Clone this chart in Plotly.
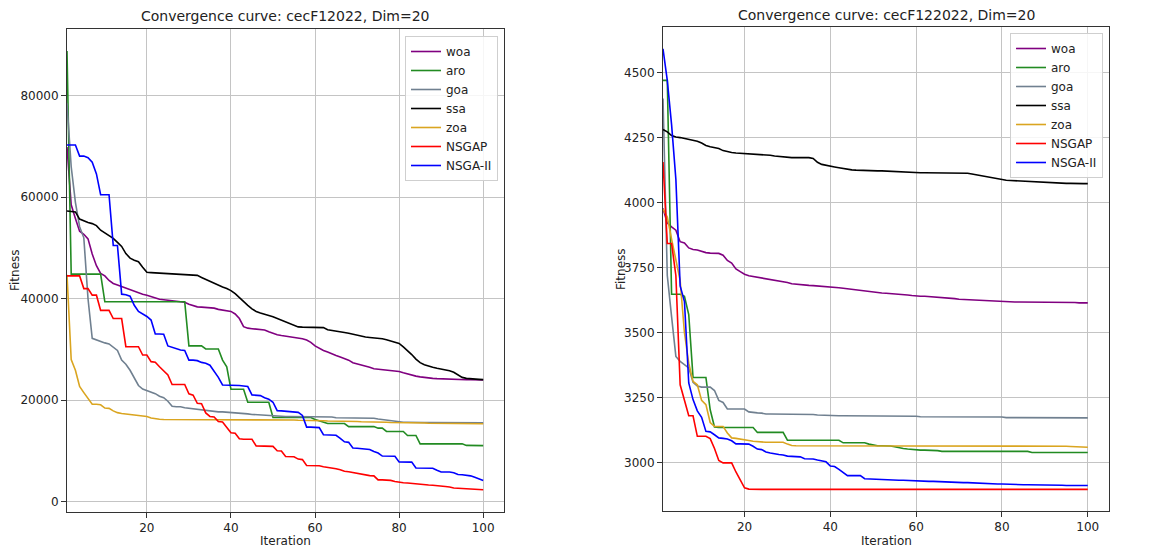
import plotly.graph_objects as go

iterations = list(range(1, 101))
names = ["woa", "aro", "goa", "ssa", "zoa", "NSGAP", "NSGA-II"]
colors = ["#800080", "#228B22", "#708090", "#000000", "#DAA520", "#FF0000", "#0000FF"]
titles = ["Convergence curve: cecF12022, Dim=20", "Convergence curve: cecF122022, Dim=20"]
x_ticks = [20, 40, 60, 80, 100]
y_ticks_f1 = [0, 20000, 40000, 60000, 80000]
y_ticks_f12 = [3000, 3250, 3500, 3750, 4000, 4250, 4500]

# ---------------- cecF1 2022 ----------------
woa_f1 = [69900, 58500, 55800, 53300, 52700, 51800, 48800, 46500, 45000, 44500,
          43600, 43000, 42700, 42400, 42000, 41700, 41400, 41200, 40900, 40700,
          40400, 40100, 39900, 39800, 39700, 39650, 39600, 39500, 39300, 38900,
          38600, 38400, 38350, 38300, 38300, 38150, 37900, 37750, 37650, 37500,
          37000, 36100, 34500, 34200, 34100, 34000, 33950, 33850, 33500, 33150,
          32900, 32750, 32600, 32500, 32400, 32300, 32100, 31850, 31400, 30700,
          30200, 29800, 29500, 29100, 28800, 28500, 28200, 27900, 27400, 27200,
          27000, 26800, 26500, 26200, 26100, 26000, 25900, 25800, 25700, 25650,
          25400, 25150, 24950, 24750, 24600, 24450, 24350, 24300, 24250, 24200,
          24150, 24100, 24080, 24060, 24050, 24040, 24030, 24020, 24010, 24000]
aro_f1 = [88800, 44850, 44850, 44850, 44850, 44850, 44850, 44850, 44850, 39400,
          39400, 39400, 39400, 39400, 39400, 39400, 39400, 39400, 39400, 39400,
          39400, 39400, 39400, 39400, 39400, 39400, 39400, 39400, 39400, 30700,
          30700, 30700, 30700, 30100, 30100, 30100, 30100, 27900, 26600, 22150,
          22150, 22150, 22150, 19600, 19600, 19600, 19600, 19600, 19600, 16600,
          16600, 16600, 16600, 16600, 16600, 16600, 16600, 16600, 16600, 16200,
          15900, 15600, 15400, 15400, 15400, 15400, 15400, 14800, 14800, 14800,
          14800, 14800, 14800, 14800, 14500, 14500, 13850, 13850, 13850, 13850,
          13850, 13050, 13050, 13050, 11400, 11400, 11400, 11400, 11400, 11400,
          11400, 11400, 11400, 11400, 11400, 11100, 11100, 11100, 11100, 11050]
goa_f1 = [78500, 66000, 59000, 54200, 52000, 40000, 32200, 31850, 31500, 31300,
          31100, 30500, 29800, 27900, 27100, 25900, 24500, 22900, 22200, 21900,
          21600, 21300, 20800, 20500, 19800, 18800, 18700, 18700, 18500, 18400,
          18300, 18150, 18050, 17950, 17850, 17750, 17700, 17700, 17650, 17650,
          17550, 17450, 17350, 17300, 17200, 17150, 17050, 16950, 16900, 16850,
          16800, 16800, 16800, 16800, 16800, 16800, 16700, 16700, 16700, 16700,
          16700, 16700, 16700, 16700, 16550, 16550, 16550, 16550, 16550, 16550,
          16550, 16550, 16500, 16450, 16300, 16200, 16100, 15950, 15800, 15700,
          15650, 15650, 15600, 15600, 15600, 15600, 15600, 15600, 15600, 15600,
          15550, 15550, 15550, 15550, 15550, 15550, 15550, 15550, 15550, 15550]
ssa_f1 = [57300, 57200, 57100, 55700, 55300, 55000, 54800, 54400, 53500, 53000,
          52500, 51900, 51100, 50300, 48900, 48000, 47600, 47300, 46200, 45200,
          45150, 45100, 45100, 45050, 45000, 44950, 44900, 44850, 44800, 44750,
          44700, 44600, 44200, 43800, 43500, 43100, 42700, 42300, 42000, 41600,
          41000, 40200, 39300, 38700, 38000, 37500, 37200, 37000, 36700, 36450,
          36100, 35800, 35500, 35100, 34700, 34450, 34400, 34400, 34400, 34400,
          34400, 34300, 33900, 33800, 33700, 33500, 33350, 33200, 33000, 32900,
          32700, 32450, 32350, 32300, 32250, 32100, 31900, 31700, 31500, 31200,
          30500, 29800, 29000, 28100, 27400, 27000, 26700, 26500, 26300, 26150,
          25950, 25800, 25500, 25000, 24500, 24300, 24200, 24150, 24100, 24050]
zoa_f1 = [44700, 28000, 25900, 22700, 21500, 20400, 19200, 19200, 19100, 18450,
          18400, 17900, 17550, 17400, 17300, 17200, 17100, 17000, 16900, 16800,
          16500, 16350, 16250, 16200, 16200, 16150, 16150, 16150, 16150, 16150,
          16100, 16100, 16100, 16100, 16100, 16100, 16100, 16100, 16100, 16100,
          16100, 16100, 16100, 16100, 16100, 16100, 16100, 16100, 16100, 16100,
          16100, 16100, 16100, 16100, 16100, 16050, 16050, 16000, 16000, 16000,
          15950, 15950, 15900, 15900, 15900, 15850, 15850, 15800, 15800, 15800,
          15750, 15750, 15700, 15700, 15700, 15650, 15650, 15600, 15600, 15600,
          15550, 15550, 15500, 15500, 15500, 15500, 15450, 15450, 15450, 15450,
          15400, 15400, 15400, 15400, 15400, 15400, 15350, 15350, 15350, 15350]
nsgap_f1 = [44500, 44500, 44500, 44500, 42000, 42000, 40700, 40700, 37700, 37700,
            37700, 36100, 36100, 36100, 30550, 30550, 30550, 30550, 28900, 28900,
            27600, 27500, 26600, 25800, 25000, 23100, 23100, 23100, 23100, 21250,
            21000, 19400, 19300, 17500, 16800, 16700, 15800, 15700, 14700, 13600,
            13500, 12400, 12300, 12300, 12300, 11000, 11000, 11000, 11000, 10900,
            10050, 10000, 8900, 8900, 8850, 8400, 8300, 7150, 7150, 7100,
            7100, 6900, 6800, 6650, 6500, 6300, 6000, 5900, 5750, 5600,
            5300, 5200, 5150, 5100, 4300, 4300, 4300, 4200, 4000, 3800,
            3750, 3700, 3600, 3500, 3400, 3350, 3300, 3250, 3200, 3100,
            3000, 2900, 2700, 2650, 2600, 2550, 2500, 2450, 2400, 2350]
nsga2_f1 = [70300, 70300, 70300, 68100, 68100, 67800, 66900, 64600, 60500, 60500,
            60500, 50500, 50500, 40900, 40800, 40500, 38700, 37500, 37000, 36500,
            35800, 33050, 33050, 33000, 30700, 30400, 30200, 29900, 29800, 27900,
            27900, 27800, 27450, 27300, 26900, 25700, 24500, 23000, 23000, 23000,
            22950, 22900, 22800, 22700, 21050, 21000, 20900, 20500, 20200, 19600,
            17950, 17900, 17800, 17750, 17700, 17600, 17000, 14700, 14700, 14700,
            14600, 13200, 13200, 13200, 13100, 12500, 11800, 11700, 10600, 10550,
            10500, 10450, 10300, 9900, 9600, 9000, 8950, 8950, 8950, 7850,
            7850, 7850, 7800, 6650, 6650, 6650, 6650, 6600, 6200, 5850,
            5850, 5850, 5700, 5350, 5300, 5250, 5100, 4800, 4500, 4200]

# ---------------- cecF12 2022 ----------------
woa_f12 = [3978, 3922, 3907, 3894, 3850, 3845, 3826, 3820, 3818, 3812,
           3808, 3806, 3805, 3805, 3798, 3778, 3768, 3745, 3735, 3725,
           3719, 3716, 3714, 3712, 3708, 3704, 3702, 3699, 3696, 3693,
           3688, 3686, 3685, 3683, 3682, 3681, 3680, 3678, 3676, 3675,
           3674, 3673, 3671, 3669, 3666, 3664, 3663, 3661, 3658, 3655,
           3654, 3653, 3652, 3651, 3650, 3649, 3647, 3645, 3643, 3641,
           3640, 3640, 3639, 3638, 3637, 3636, 3635, 3633, 3631, 3629,
           3628, 3627, 3626, 3625, 3624, 3623, 3623, 3622, 3622, 3621,
           3619, 3618, 3618, 3618, 3618, 3618, 3618, 3618, 3618, 3618,
           3617, 3617, 3617, 3616, 3616, 3616, 3616, 3615, 3615, 3615]
aro_f12 = [4470, 4470, 3648, 3648, 3648, 3640, 3570, 3328, 3328, 3328,
           3328, 3204, 3138, 3136, 3136, 3136, 3136, 3136, 3136, 3136,
           3136, 3136, 3117, 3117, 3117, 3117, 3117, 3117, 3117, 3087,
           3087, 3087, 3087, 3087, 3087, 3087, 3087, 3087, 3087, 3087,
           3087, 3087, 3077, 3077, 3077, 3077, 3077, 3077, 3072, 3068,
           3066, 3066, 3066, 3065, 3062, 3057, 3055, 3053, 3051, 3049,
           3049, 3049, 3049, 3049, 3047, 3044, 3044, 3044, 3044, 3044,
           3044, 3044, 3044, 3044, 3044, 3044, 3044, 3044, 3044, 3044,
           3044, 3044, 3044, 3044, 3044, 3044, 3040, 3040, 3040, 3040,
           3040, 3040, 3040, 3040, 3040, 3040, 3040, 3040, 3040, 3040]
goa_f12 = [4400, 3720, 3562, 3409, 3390, 3378, 3365, 3310, 3295, 3291,
           3291, 3291, 3278, 3240, 3232, 3207, 3207, 3207, 3207, 3207,
           3196, 3193, 3192, 3191, 3188, 3188, 3188, 3188, 3188, 3188,
           3188, 3188, 3188, 3188, 3188, 3186, 3184, 3183, 3183, 3182,
           3181, 3181, 3181, 3181, 3181, 3181, 3181, 3181, 3181, 3181,
           3179, 3179, 3179, 3179, 3179, 3179, 3179, 3179, 3179, 3179,
           3177, 3177, 3177, 3177, 3177, 3177, 3177, 3177, 3177, 3177,
           3176, 3176, 3176, 3176, 3176, 3176, 3176, 3176, 3176, 3176,
           3174, 3174, 3174, 3174, 3174, 3174, 3174, 3174, 3174, 3174,
           3173, 3173, 3173, 3173, 3173, 3173, 3173, 3173, 3173, 3173]
ssa_f12 = [4281, 4272, 4258, 4252, 4250, 4247, 4244, 4240, 4236, 4229,
           4220, 4215, 4212, 4208, 4200, 4195, 4193, 4191, 4190, 4189,
           4188, 4187, 4187, 4186, 4184, 4182, 4179, 4177, 4175, 4174,
           4173, 4173, 4173, 4173, 4173, 4170, 4155, 4147, 4143, 4139,
           4137, 4134, 4131, 4128, 4126, 4125, 4124, 4123, 4123, 4122,
           4122, 4122, 4121, 4120, 4119, 4118, 4118, 4117, 4116, 4116,
           4115, 4115, 4115, 4115, 4115, 4115, 4115, 4115, 4115, 4115,
           4114, 4113, 4110, 4107, 4104, 4100, 4097, 4094, 4091, 4088,
           4086, 4085, 4084, 4083, 4082, 4081, 4080, 4079, 4078, 4078,
           4077, 4076, 4076, 4075, 4074, 4074, 4073, 4073, 4073, 4073]
zoa_f12 = [3975, 3945, 3860, 3775, 3700, 3500, 3383, 3313, 3300, 3240,
           3224, 3155, 3140, 3140, 3140, 3115, 3096, 3094, 3092, 3090,
           3086, 3083, 3081, 3080, 3079, 3079, 3079, 3079, 3079, 3072,
           3067, 3066, 3066, 3066, 3066, 3064, 3064, 3064, 3064, 3064,
           3064, 3064, 3064, 3064, 3064, 3064, 3064, 3064, 3064, 3064,
           3064, 3064, 3064, 3064, 3064, 3064, 3064, 3064, 3064, 3064,
           3064, 3064, 3064, 3064, 3064, 3064, 3064, 3064, 3064, 3064,
           3064, 3064, 3064, 3064, 3064, 3064, 3064, 3064, 3064, 3064,
           3064, 3064, 3064, 3064, 3064, 3064, 3064, 3064, 3064, 3064,
           3064, 3064, 3064, 3064, 3064, 3063, 3062, 3061, 3061, 3060]
nsgap_f12 = [4156, 3843, 3843, 3720, 3300, 3245, 3181, 3181, 3102, 3102,
             3102, 3093, 3055, 3009, 3000, 3000, 3000, 2965, 2933, 2904,
             2899, 2898, 2898, 2898, 2898, 2898, 2898, 2898, 2898, 2898,
             2898, 2898, 2898, 2898, 2898, 2898, 2898, 2898, 2898, 2898,
             2898, 2898, 2898, 2898, 2898, 2898, 2898, 2898, 2898, 2898,
             2898, 2898, 2898, 2898, 2898, 2898, 2898, 2898, 2898, 2898,
             2898, 2898, 2898, 2898, 2898, 2898, 2898, 2898, 2898, 2898,
             2898, 2898, 2898, 2898, 2898, 2898, 2898, 2898, 2898, 2898,
             2898, 2898, 2898, 2898, 2898, 2898, 2898, 2898, 2898, 2898,
             2898, 2898, 2898, 2898, 2898, 2898, 2898, 2898, 2898, 2898]
nsga2_f12 = [4591, 4470, 4300, 4090, 3680, 3620, 3307, 3243, 3200, 3175,
             3121, 3119, 3108, 3096, 3094, 3092, 3085, 3073, 3073, 3073,
             3072, 3064, 3053, 3051, 3042, 3038, 3034, 3032, 3030, 3026,
             3025, 3024, 3023, 3016, 3015, 3015, 3011, 3008, 3004, 2988,
             2986, 2975, 2962, 2951, 2951, 2951, 2951, 2939, 2938, 2937,
             2936, 2936, 2935, 2935, 2934, 2933, 2933, 2932, 2932, 2931,
             2930, 2930, 2929, 2929, 2928, 2928, 2927, 2926, 2926, 2925,
             2924, 2924, 2923, 2922, 2921, 2921, 2920, 2920, 2919, 2919,
             2918, 2918, 2917, 2917, 2916, 2916, 2916, 2915, 2915, 2915,
             2914, 2914, 2914, 2914, 2913, 2913, 2913, 2913, 2913, 2913]

series_f1 = [woa_f1, aro_f1, goa_f1, ssa_f1, zoa_f1, nsgap_f1, nsga2_f1]
series_f12 = [woa_f12, aro_f12, goa_f12, ssa_f12, zoa_f12, nsgap_f12, nsga2_f12]

W, H = 1153, 549
FONT = "DejaVu Sans"
TXT = "#222222"

fig = go.Figure()
for name, col, ys in zip(names, colors, series_f1):
    fig.add_trace(go.Scatter(x=iterations, y=ys, mode="lines", name=name,
                             line=dict(color=col, width=1.6),
                             xaxis="x", yaxis="y", legend="legend"))
for name, col, ys in zip(names, colors, series_f12):
    fig.add_trace(go.Scatter(x=iterations, y=ys, mode="lines", name=name,
                             line=dict(color=col, width=1.6),
                             xaxis="x2", yaxis="y2", legend="legend2"))


def xaxis_cfg(dom, anchor):
    return dict(domain=dom, anchor=anchor, range=[1, 104.95], tickvals=x_ticks,
                showgrid=True, gridcolor="#c4c4c4", gridwidth=1, zeroline=False,
                showline=True, linecolor="#333333", linewidth=1, mirror=True,
                ticks="outside", ticklen=5, tickcolor="#333333",
                tickfont=dict(family=FONT, size=12, color=TXT))


def yaxis_cfg(dom, anchor, rng, tv):
    return dict(domain=dom, anchor=anchor, range=rng, tickvals=tv, tickformat="d",
                showgrid=True, gridcolor="#c4c4c4", gridwidth=1, zeroline=False,
                showline=True, linecolor="#333333", linewidth=1, mirror=True,
                ticks="outside", ticklen=5, tickcolor="#333333",
                tickfont=dict(family=FONT, size=12, color=TXT))


L1, R1, T1, B1 = 67, 504, 29, 512
L2, R2, T2, B2 = 663, 1109, 27, 511

legend_common = dict(bgcolor="rgba(255,255,255,0.85)", bordercolor="#cfcfcf", borderwidth=1,
                     font=dict(family=FONT, size=12, color=TXT), xanchor="right", yanchor="top",
                     itemwidth=30, tracegroupgap=0)

fig.update_layout(
    width=W, height=H, margin=dict(l=0, r=0, t=0, b=0),
    paper_bgcolor="white", plot_bgcolor="white",
    font=dict(family=FONT, color=TXT),
    xaxis=xaxis_cfg([L1 / W, R1 / W], "y"),
    yaxis=yaxis_cfg([1 - B1 / H, 1 - T1 / H], "x", [-2026, 93150], y_ticks_f1),
    xaxis2=xaxis_cfg([L2 / W, R2 / W], "y2"),
    yaxis2=yaxis_cfg([1 - B2 / H, 1 - T2 / H], "x2", [2815, 4675], y_ticks_f12),
    legend=dict(x=(R1 - 6) / W, y=1 - (T1 + 7) / H, **legend_common),
    legend2=dict(x=(R2 - 6) / W, y=1 - (T2 + 6) / H, **legend_common),
    annotations=[
        dict(text=titles[0], x=(L1 + R1) / 2 / W, y=1 - 16 / H, xref="paper", yref="paper",
             showarrow=False, font=dict(family=FONT, size=14, color=TXT), xanchor="center", yanchor="middle"),
        dict(text=titles[1], x=(L2 + R2) / 2 / W, y=1 - 15 / H, xref="paper", yref="paper",
             showarrow=False, font=dict(family=FONT, size=14, color=TXT), xanchor="center", yanchor="middle"),
        dict(text="Iteration", x=(L1 + R1) / 2 / W, y=1 - 541 / H, xref="paper", yref="paper",
             showarrow=False, font=dict(family=FONT, size=12, color=TXT), xanchor="center", yanchor="middle"),
        dict(text="Iteration", x=(L2 + R2) / 2 / W, y=1 - 541 / H, xref="paper", yref="paper",
             showarrow=False, font=dict(family=FONT, size=12, color=TXT), xanchor="center", yanchor="middle"),
        dict(text="Fitness", x=15 / W, y=1 - 270 / H, xref="paper", yref="paper", textangle=-90,
             showarrow=False, font=dict(family=FONT, size=12, color=TXT), xanchor="center", yanchor="middle"),
        dict(text="Fitness", x=621 / W, y=1 - 269 / H, xref="paper", yref="paper", textangle=-90,
             showarrow=False, font=dict(family=FONT, size=12, color=TXT), xanchor="center", yanchor="middle"),
    ],
)

fig.write_html("out.html")
